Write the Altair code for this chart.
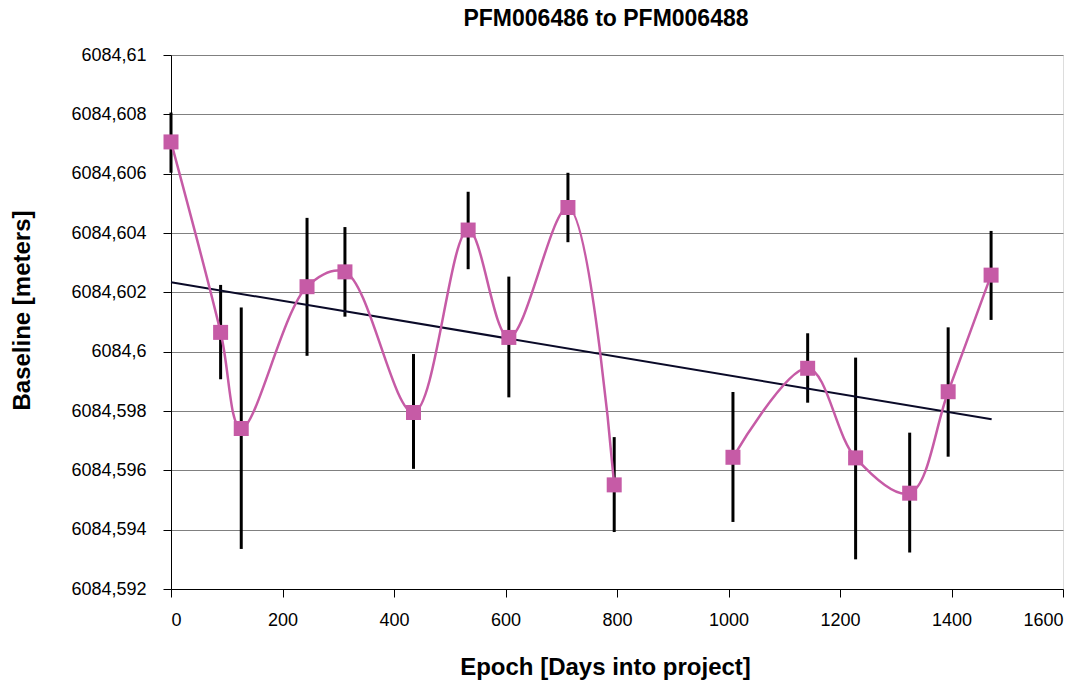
import altair as alt
import pandas as pd

# ---- data ----
epoch = [0, 89, 126, 244, 312, 435, 533, 606, 712, 795, 1008, 1142, 1228, 1325, 1394, 1471]
baseline = [6084.60707, 6084.60065, 6084.59741, 6084.60219, 6084.60269, 6084.59795,
            6084.60410, 6084.60048, 6084.60486, 6084.59551, 6084.59644, 6084.59944,
            6084.59642, 6084.59523, 6084.59865, 6084.60258]
err_top = [6084.60806, 6084.60225, 6084.60149, 6084.60451, 6084.60420, 6084.59992,
           6084.60539, 6084.60253, 6084.60603, 6084.59712, 6084.59864, 6084.60062,
           6084.59980, 6084.59727, 6084.60082, 6084.60407]
err_bottom = [6084.60603, 6084.59907, 6084.59335, 6084.59986, 6084.60118, 6084.59605,
              6084.60278, 6084.59846, 6084.60369, 6084.59392, 6084.59426, 6084.59828,
              6084.59300, 6084.59323, 6084.59646, 6084.60107]
# the smoothed line is broken between 795 and 1008 days
segment = [1, 1, 1, 1, 1, 1, 1, 1, 1, 1, 2, 2, 2, 2, 2, 2]

trend_x = [0, 1472]
trend_y = [6084.60234, 6084.59772]

x_ticks = [0, 200, 400, 600, 800, 1000, 1200, 1400, 1600]
y_ticks = [6084.592, 6084.594, 6084.596, 6084.598, 6084.600, 6084.602,
           6084.604, 6084.606, 6084.608, 6084.610]

df = pd.DataFrame({"epoch": epoch, "baseline": baseline, "hi": err_top,
                   "lo": err_bottom, "segment": segment})
trend = pd.DataFrame({"epoch": trend_x, "baseline": trend_y})

FONT = "Liberation Sans"
PINK = "#C65BA6"

x_scale = alt.Scale(domain=[0, 1600], nice=False, zero=False)
y_scale = alt.Scale(domain=[6084.592, 6084.61], nice=False, zero=False)

x_axis = alt.Axis(
    values=x_ticks, title="Epoch [Days into project]", grid=False,
    labelExpr="format(datum.value, 'd')",
    labelFont=FONT, labelFontSize=18, labelColor="black", labelPadding=14,
    tickColor="black", tickSize=8, domainColor="black",
    titleFont=FONT, titleFontSize=24, titleFontWeight="bold", titleColor="black",
    titlePadding=26, titleX=434, titleAnchor="middle",
)
y_axis = alt.Axis(
    values=y_ticks, title="Baseline [meters]",
    labelExpr="replace(format(datum.value, '.3~f'), '.', ',')",
    grid=True, gridColor="#808080", gridWidth=1,
    labelFont=FONT, labelFontSize=18, labelColor="black", labelPadding=17,
    tickColor="black", tickSize=8, domainColor="black",
    titleFont=FONT, titleFontSize=24, titleFontWeight="bold", titleColor="black",
    titlePadding=36, titleY=255, titleAnchor="middle",
)

errbars = alt.Chart(df).mark_rule(color="black", strokeWidth=3).encode(
    x=alt.X("epoch:Q", scale=x_scale, axis=x_axis),
    y=alt.Y("lo:Q", scale=y_scale, axis=y_axis),
    y2="hi:Q",
)

trend_line = alt.Chart(trend).mark_line(color="#0a0a28", strokeWidth=2).encode(
    x=alt.X("epoch:Q", scale=x_scale),
    y=alt.Y("baseline:Q", scale=y_scale),
)

curve = alt.Chart(df).mark_line(color=PINK, strokeWidth=2.5, interpolate="catmull-rom").encode(
    x=alt.X("epoch:Q", scale=x_scale),
    y=alt.Y("baseline:Q", scale=y_scale),
    detail="segment:N",
)

markers = alt.Chart(df).mark_point(shape="square", filled=True, color=PINK, size=225, opacity=1).encode(
    x=alt.X("epoch:Q", scale=x_scale),
    y=alt.Y("baseline:Q", scale=y_scale),
)

chart = alt.layer(errbars, trend_line, curve, markers).properties(
    width=892,
    height=534,
    title=alt.TitleParams(
        "PFM006486 to PFM006488", font=FONT, fontSize=23, fontWeight="bold",
        color="black", anchor="middle", dx=-11, offset=15,
    ),
    autosize=alt.AutoSizeParams(type="none"),
    padding={"left": 171, "top": 55, "right": 20, "bottom": 100},
).configure_view(
    stroke="black", strokeWidth=1.5
).configure(background="white")

chart.save("out.html", embed_options={"renderer": "svg", "actions": False})
